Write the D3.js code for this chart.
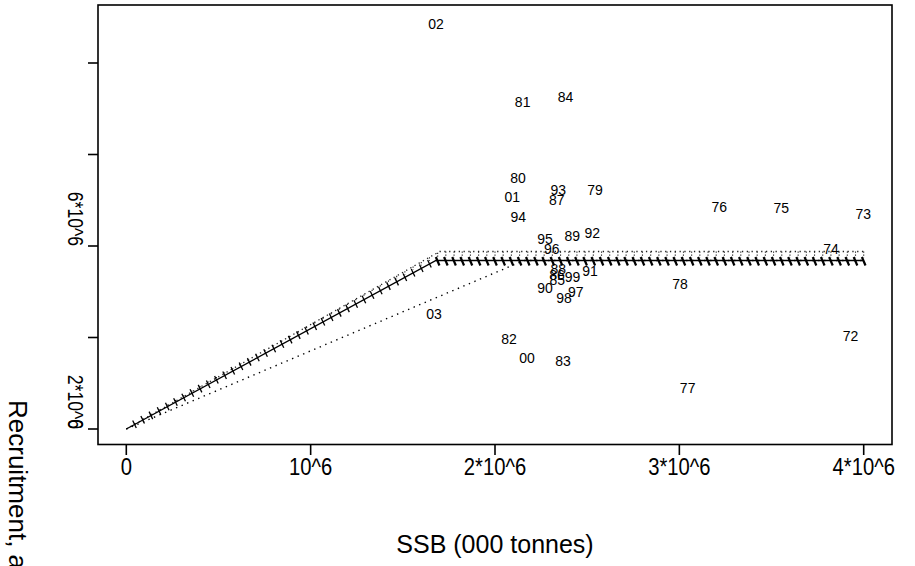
<!DOCTYPE html>
<html><head><meta charset="utf-8">
<script src="https://cdn.jsdelivr.net/npm/d3@7"></script>
<style>body{margin:0;background:#fff}text{font-family:"Liberation Sans",Arial,sans-serif;fill:#000}</style>
</head><body><svg id="c" width="915" height="566"></svg>
<script>
// ---- data ----
const years = ["72","73","74","75","76","77","78","79","80","81","82","83","84","85","86","87","88","89","90","91","92","93","94","95","96","97","98","99","00","01","02","03"];
const ssb = [3.929e6,3.998e6,3.823e6,3.553e6,3.217e6,3.045e6,3.004e6,2.542e6,2.125e6,2.150e6,2.076e6,2.369e6,2.383e6,2.338e6,2.336e6,2.335e6,2.343e6,2.419e6,2.271e6,2.515e6,2.528e6,2.343e6,2.126e6,2.271e6,2.308e6,2.438e6,2.374e6,2.421e6,2.174e6,2.094e6,1.680e6,1.669e6];
const recruits = [2.033e6,4.693e6,3.928e6,4.824e6,4.859e6,0.890e6,3.163e6,5.224e6,5.480e6,7.141e6,1.967e6,1.486e6,7.250e6,3.257e6,3.366e6,5.005e6,3.491e6,4.225e6,3.089e6,3.454e6,4.278e6,5.224e6,4.641e6,4.153e6,3.928e6,3.001e6,2.863e6,3.329e6,1.552e6,5.065e6,8.852e6,2.514e6];
const fitSSB = [0,1.68e6,4.0e6],   fitRec = [0,3.683e6,3.683e6];
const upSSB  = [0,1.70e6,4.0e6],   upRec  = [0,3.88e6,3.88e6];
const loSSB  = [0,2.157e6,4.0e6],  loRec  = [0,3.683e6,3.683e6];
const xTicks = [0,1e6,2e6,3e6,4e6];
const xTickLabels = ["0","10^6","2*10^6","3*10^6","4*10^6"];
const yTicks = [0,2e6,4e6,6e6,8e6];
const yLabelValues = [0,2e6,6e6];
const yLabels = ["0","2*10^6","6*10^6"];
const nMarks = 90;

// ---- drawing ----
const svg = d3.select("#c");
const x = d3.scaleLinear().domain([0,4e6]).range([126.3,863.7]);
const y = d3.scaleLinear().domain([0,8e6]).range([429,63]);
const box = {l:98,r:892,t:5,b:444.5};

const line = d3.line().x(d=>x(d[0])).y(d=>y(d[1]));
const pairs = (a,b)=>a.map((v,i)=>[v,b[i]]);
const interp = (xs,ys,v)=>{for(let i=1;i<xs.length;i++){if(v<=xs[i]){const t=(v-xs[i-1])/(xs[i]-xs[i-1]);return ys[i-1]+t*(ys[i]-ys[i-1]);}}return ys[ys.length-1];};

// lower & upper dotted lines
svg.append("path").attr("d",line(pairs(loSSB,loRec))).attr("fill","none").attr("stroke","#000").attr("stroke-width",1.4).attr("stroke-dasharray","1.4,4.6");
svg.append("path").attr("d",line(pairs(upSSB,upRec))).attr("fill","none").attr("stroke","#222").attr("stroke-width",1.3).attr("stroke-dasharray","1.3,3.5");
// solid fit
svg.append("path").attr("d",line(pairs(fitSSB,fitRec))).attr("fill","none").attr("stroke","#000").attr("stroke-width",1.4);
// marks along fit
const markX = d3.range(1,nMarks+1).map(i=>i*4e6/nMarks);
const mg = svg.append("g");
markX.forEach(v=>{
  const X=x(v), Y=y(interp(fitSSB,fitRec,v)), Yu=y(interp(upSSB,upRec,v));
  const flat = v>=fitSSB[1];
  mg.append("line").attr("x1",X).attr("x2",X).attr("y1",Yu).attr("y2",Y-3).attr("stroke","#222").attr("stroke-width",1.1).attr("stroke-dasharray","1.3,1.6");
  mg.append("line").attr("x1",X-1.8).attr("y1",Y-(flat?3.5:4)).attr("x2",X+1.8).attr("y2",Y+(flat?5:3.5))
    .attr("stroke","#000").attr("stroke-width",flat?2.2:1.3);
});

// year labels
svg.append("g").selectAll("text").data(years).join("text")
  .attr("x",(d,i)=>x(ssb[i])).attr("y",(d,i)=>y(recruits[i])+5)
  .attr("text-anchor","middle").attr("font-size",14).text(d=>d);

// box
svg.append("rect").attr("x",box.l).attr("y",box.t).attr("width",box.r-box.l).attr("height",box.b-box.t)
  .attr("fill","none").attr("stroke","#000").attr("stroke-width",1.6);

// x axis
const xa = svg.append("g");
xTicks.forEach((v,i)=>{
  xa.append("line").attr("x1",x(v)).attr("x2",x(v)).attr("y1",box.b).attr("y2",box.b+10.5).attr("stroke","#000").attr("stroke-width",1.6);
  xa.append("text").attr("transform",`translate(${x(v)},475) scale(0.88,1)`).attr("text-anchor","middle").attr("font-size",23).text(xTickLabels[i]);
});
svg.append("text").attr("x",495).attr("y",553).attr("text-anchor","middle").attr("font-size",25).text("SSB (000 tonnes)");

// y axis
const ya = svg.append("g");
yTicks.forEach(v=>{
  ya.append("line").attr("x1",box.l-10).attr("x2",box.l).attr("y1",y(v)).attr("y2",y(v)).attr("stroke","#000").attr("stroke-width",1.6);
});
const yStep = y(0)-y(2e6);
yLabelValues.forEach((v,i)=>{
  const yy = y(v) + (v>0 ? yStep : 0);
  ya.append("text").attr("transform",`translate(68,${yy}) rotate(90) scale(0.8,1)`).attr("text-anchor","end").attr("font-size",22).text(yLabels[i]);
});
svg.append("text").attr("transform","translate(9,400) rotate(90)").attr("text-anchor","start").attr("font-size",26).text("Recruitment, age 0");
</script></body></html>
